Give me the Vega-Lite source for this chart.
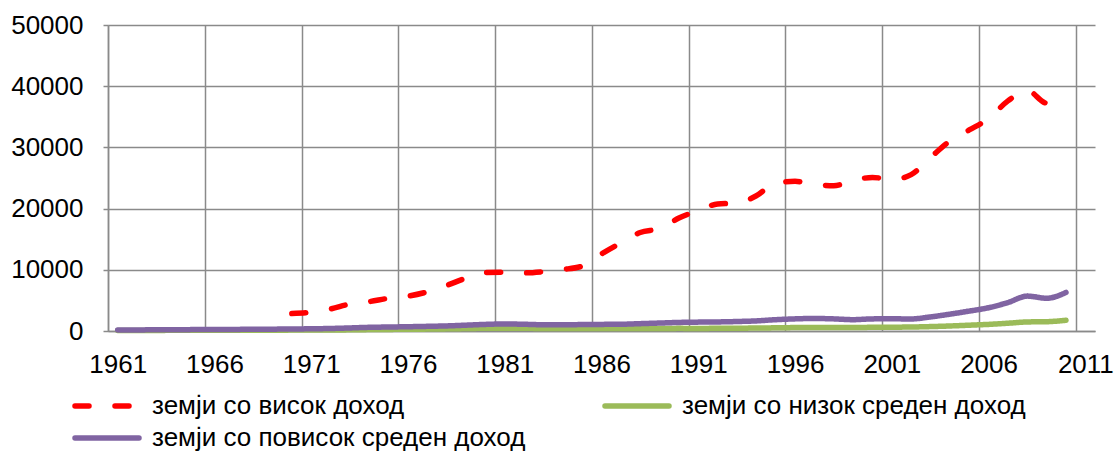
{
  "$schema": "https://vega.github.io/schema/vega-lite/v6.json",
  "autosize": {"type": "none"},
  "padding": {"left": 108, "top": 25, "right": 20, "bottom": 120},
  "width": 987,
  "height": 306,
  "background": "white",
  "config": {
    "view": {"stroke": null},
    "font": "Liberation Sans",
    "axis": {"labelFont": "Liberation Sans", "labelColor": "#000000", "labelFontSize": 26, "gridColor": "#8a8a8a", "gridWidth": 1.5, "gridOpacity": 1, "domainColor": "#8a8a8a", "domainWidth": 1.5, "tickColor": "#8a8a8a", "tickWidth": 1.5, "title": null}
  },
  "data": {"values": [
    {"year": 1970, "series": "земји со висок доход", "value": 2850},
    {"year": 1971, "series": "земји со висок доход", "value": 3050},
    {"year": 1972, "series": "земји со висок доход", "value": 3600},
    {"year": 1973, "series": "земји со висок доход", "value": 4400},
    {"year": 1974, "series": "земји со висок доход", "value": 4800},
    {"year": 1975, "series": "земји со висок доход", "value": 5350},
    {"year": 1976, "series": "земји со висок доход", "value": 5700},
    {"year": 1977, "series": "земји со висок доход", "value": 6400},
    {"year": 1978, "series": "земји со висок доход", "value": 7450},
    {"year": 1979, "series": "земји со висок доход", "value": 8650},
    {"year": 1980, "series": "земји со висок доход", "value": 9550},
    {"year": 1981, "series": "земји со висок доход", "value": 9600},
    {"year": 1982, "series": "земји со висок доход", "value": 9500},
    {"year": 1983, "series": "земји со висок доход", "value": 9700},
    {"year": 1984, "series": "земји со висок доход", "value": 10050},
    {"year": 1985, "series": "земји со висок доход", "value": 10600},
    {"year": 1986, "series": "земји со висок доход", "value": 12600},
    {"year": 1987, "series": "земји со висок доход", "value": 14400},
    {"year": 1988, "series": "земји со висок доход", "value": 16100},
    {"year": 1989, "series": "земји со висок доход", "value": 16750},
    {"year": 1990, "series": "земји со висок доход", "value": 18450},
    {"year": 1991, "series": "земји со висок доход", "value": 19700},
    {"year": 1992, "series": "земји со висок доход", "value": 20750},
    {"year": 1993, "series": "земји со висок доход", "value": 20900},
    {"year": 1994, "series": "земји со висок доход", "value": 22100},
    {"year": 1995, "series": "земји со висок доход", "value": 24200},
    {"year": 1996, "series": "земји со висок доход", "value": 24450},
    {"year": 1997, "series": "земји со висок доход", "value": 23950},
    {"year": 1998, "series": "земји со висок доход", "value": 23750},
    {"year": 1999, "series": "земји со висок доход", "value": 24600},
    {"year": 2000, "series": "земји со висок доход", "value": 25100},
    {"year": 2001, "series": "земји со висок доход", "value": 24750},
    {"year": 2002, "series": "земји со висок доход", "value": 25550},
    {"year": 2003, "series": "земји со висок доход", "value": 28350},
    {"year": 2004, "series": "земји со висок доход", "value": 31050},
    {"year": 2005, "series": "земји со висок доход", "value": 32850},
    {"year": 2006, "series": "земји со висок доход", "value": 34700},
    {"year": 2007, "series": "земји со висок доход", "value": 37600},
    {"year": 2008, "series": "земји со висок доход", "value": 39300},
    {"year": 2009, "series": "земји со висок доход", "value": 37250},
    {"year": 2010, "series": "земји со висок доход", "value": 37600},
    {"year": 1961, "series": "земји со низок среден доход", "value": 90},
    {"year": 1962, "series": "земји со низок среден доход", "value": 95},
    {"year": 1963, "series": "земји со низок среден доход", "value": 100},
    {"year": 1964, "series": "земји со низок среден доход", "value": 105},
    {"year": 1965, "series": "земји со низок среден доход", "value": 110},
    {"year": 1966, "series": "земји со низок среден доход", "value": 115},
    {"year": 1967, "series": "земји со низок среден доход", "value": 120},
    {"year": 1968, "series": "земји со низок среден доход", "value": 125},
    {"year": 1969, "series": "земји со низок среден доход", "value": 135},
    {"year": 1970, "series": "земји со низок среден доход", "value": 145},
    {"year": 1971, "series": "земји со низок среден доход", "value": 155},
    {"year": 1972, "series": "земји со низок среден доход", "value": 165},
    {"year": 1973, "series": "земји со низок среден доход", "value": 190},
    {"year": 1974, "series": "земји со низок среден доход", "value": 230},
    {"year": 1975, "series": "земји со низок среден доход", "value": 260},
    {"year": 1976, "series": "земји со низок среден доход", "value": 280},
    {"year": 1977, "series": "земји со низок среден доход", "value": 310},
    {"year": 1978, "series": "земји со низок среден доход", "value": 350},
    {"year": 1979, "series": "земји со низок среден доход", "value": 400},
    {"year": 1980, "series": "земји со низок среден доход", "value": 450},
    {"year": 1981, "series": "земји со низок среден доход", "value": 460},
    {"year": 1982, "series": "земји со низок среден доход", "value": 440},
    {"year": 1983, "series": "земји со низок среден доход", "value": 420},
    {"year": 1984, "series": "земји со низок среден доход", "value": 420},
    {"year": 1985, "series": "земји со низок среден доход", "value": 410},
    {"year": 1986, "series": "земји со низок среден доход", "value": 400},
    {"year": 1987, "series": "земји со низок среден доход", "value": 400},
    {"year": 1988, "series": "земји со низок среден доход", "value": 410},
    {"year": 1989, "series": "земји со низок среден доход", "value": 410},
    {"year": 1990, "series": "земји со низок среден доход", "value": 430},
    {"year": 1991, "series": "земји со низок среден доход", "value": 420},
    {"year": 1992, "series": "земји со низок среден доход", "value": 440},
    {"year": 1993, "series": "земји со низок среден доход", "value": 460},
    {"year": 1994, "series": "земји со низок среден доход", "value": 480},
    {"year": 1995, "series": "земји со низок среден доход", "value": 520},
    {"year": 1996, "series": "земји со низок среден доход", "value": 560},
    {"year": 1997, "series": "земји со низок среден доход", "value": 580},
    {"year": 1998, "series": "земји со низок среден доход", "value": 560},
    {"year": 1999, "series": "земји со низок среден доход", "value": 570},
    {"year": 2000, "series": "земји со низок среден доход", "value": 600},
    {"year": 2001, "series": "земји со низок среден доход", "value": 620},
    {"year": 2002, "series": "земји со низок среден доход", "value": 650},
    {"year": 2003, "series": "земји со низок среден доход", "value": 720},
    {"year": 2004, "series": "земји со низок среден доход", "value": 820},
    {"year": 2005, "series": "земји со низок среден доход", "value": 950},
    {"year": 2006, "series": "земји со низок среден доход", "value": 1080},
    {"year": 2007, "series": "земји со низок среден доход", "value": 1270},
    {"year": 2008, "series": "земји со низок среден доход", "value": 1480},
    {"year": 2009, "series": "земји со низок среден доход", "value": 1520},
    {"year": 2010, "series": "земји со низок среден доход", "value": 1750},
    {"year": 1961, "series": "земји со повисок среден доход", "value": 170},
    {"year": 1962, "series": "земји со повисок среден доход", "value": 180},
    {"year": 1963, "series": "земји со повисок среден доход", "value": 190},
    {"year": 1964, "series": "земји со повисок среден доход", "value": 210},
    {"year": 1965, "series": "земји со повисок среден доход", "value": 230},
    {"year": 1966, "series": "земји со повисок среден доход", "value": 250},
    {"year": 1967, "series": "земји со повисок среден доход", "value": 260},
    {"year": 1968, "series": "земји со повисок среден доход", "value": 280},
    {"year": 1969, "series": "земји со повисок среден доход", "value": 300},
    {"year": 1970, "series": "земји со повисок среден доход", "value": 330},
    {"year": 1971, "series": "земји со повисок среден доход", "value": 360},
    {"year": 1972, "series": "земји со повисок среден доход", "value": 410},
    {"year": 1973, "series": "земји со повисок среден доход", "value": 500},
    {"year": 1974, "series": "земји со повисок среден доход", "value": 600},
    {"year": 1975, "series": "земји со повисок среден доход", "value": 650},
    {"year": 1976, "series": "земји со повисок среден доход", "value": 700},
    {"year": 1977, "series": "земји со повисок среден доход", "value": 760},
    {"year": 1978, "series": "земји со повисок среден доход", "value": 830},
    {"year": 1979, "series": "земји со повисок среден доход", "value": 950},
    {"year": 1980, "series": "земји со повисок среден доход", "value": 1080},
    {"year": 1981, "series": "земји со повисок среден доход", "value": 1150},
    {"year": 1982, "series": "земји со повисок среден доход", "value": 1100},
    {"year": 1983, "series": "земји со повисок среден доход", "value": 1020},
    {"year": 1984, "series": "земји со повисок среден доход", "value": 1020},
    {"year": 1985, "series": "земји со повисок среден доход", "value": 1050},
    {"year": 1986, "series": "земји со повисок среден доход", "value": 1080},
    {"year": 1987, "series": "земји со повисок среден доход", "value": 1100},
    {"year": 1988, "series": "земји со повисок среден доход", "value": 1200},
    {"year": 1989, "series": "земји со повисок среден доход", "value": 1300},
    {"year": 1990, "series": "земји со повисок среден доход", "value": 1400},
    {"year": 1991, "series": "земји со повисок среден доход", "value": 1450},
    {"year": 1992, "series": "земји со повисок среден доход", "value": 1480},
    {"year": 1993, "series": "земји со повисок среден доход", "value": 1550},
    {"year": 1994, "series": "земји со повисок среден доход", "value": 1650},
    {"year": 1995, "series": "земји со повисок среден доход", "value": 1850},
    {"year": 1996, "series": "земји со повисок среден доход", "value": 1980},
    {"year": 1997, "series": "земји со повисок среден доход", "value": 2050},
    {"year": 1998, "series": "земји со повисок среден доход", "value": 1980},
    {"year": 1999, "series": "земји со повисок среден доход", "value": 1850},
    {"year": 2000, "series": "земји со повисок среден доход", "value": 1980},
    {"year": 2001, "series": "земји со повисок среден доход", "value": 1990},
    {"year": 2002, "series": "земји со повисок среден доход", "value": 1970},
    {"year": 2003, "series": "земји со повисок среден доход", "value": 2300},
    {"year": 2004, "series": "земји со повисок среден доход", "value": 2750},
    {"year": 2005, "series": "земји со повисок среден доход", "value": 3250},
    {"year": 2006, "series": "земји со повисок среден доход", "value": 3800},
    {"year": 2007, "series": "земји со повисок среден доход", "value": 4650},
    {"year": 2008, "series": "земји со повисок среден доход", "value": 5700},
    {"year": 2009, "series": "земји со повисок среден доход", "value": 5350},
    {"year": 2010, "series": "земји со повисок среден доход", "value": 6300}
  ]},
  "mark": {"type": "line", "strokeWidth": 5.5, "strokeCap": "round", "strokeJoin": "round", "interpolate": "monotone"},
  "encoding": {
    "x": {
      "field": "year", "type": "quantitative",
      "scale": {"domain": [1960.5, 2011.5], "nice": false, "zero": false},
      "axis": {
        "values": [1960.5, 1965.5, 1970.5, 1975.5, 1980.5, 1985.5, 1990.5, 1995.5, 2000.5, 2005.5, 2010.5],
        "labelExpr": "format(datum.value + 0.5, 'd')",
        "labelOffset": 9.7,
        "labelFlush": false,
        "labelOverlap": false,
        "labelPadding": 20,
        "ticks": false,
        "grid": true
      }
    },
    "y": {
      "field": "value", "type": "quantitative",
      "scale": {"domain": [0, 50000], "nice": false},
      "axis": {"values": [0, 10000, 20000, 30000, 40000, 50000], "format": "d", "tickSize": 5, "labelPadding": 20, "grid": true}
    },
    "color": {
      "field": "series", "type": "nominal",
      "scale": {"domain": ["земји со висок доход", "земји со низок среден доход", "земји со повисок среден доход"], "range": ["#FF0000", "#9BBB59", "#8064A2"]},
      "legend": {
        "orient": "none", "legendX": -14, "legendY": 368, "direction": "horizontal", "columns": 2,
        "title": null, "padding": 0, "columnPadding": 68, "rowPadding": 6,
        "symbolType": "M-4,0L4,0", "symbolSize": 256, "symbolStrokeWidth": 5.5,
        "labelFont": "Liberation Sans", "labelFontSize": 26, "labelColor": "#000000", "labelLimit": 0, "labelOffset": 32,
        "encode": {"symbols": {"update": {"strokeCap": {"value": "round"}}}}
      }
    },
    "strokeDash": {
      "field": "series", "type": "nominal",
      "scale": {"domain": ["земји со висок доход", "земји со низок среден доход", "земји со повисок среден доход"], "range": [[14, 26], [1, 0], [1, 0]]},
      "legend": null
    }
  }
}
